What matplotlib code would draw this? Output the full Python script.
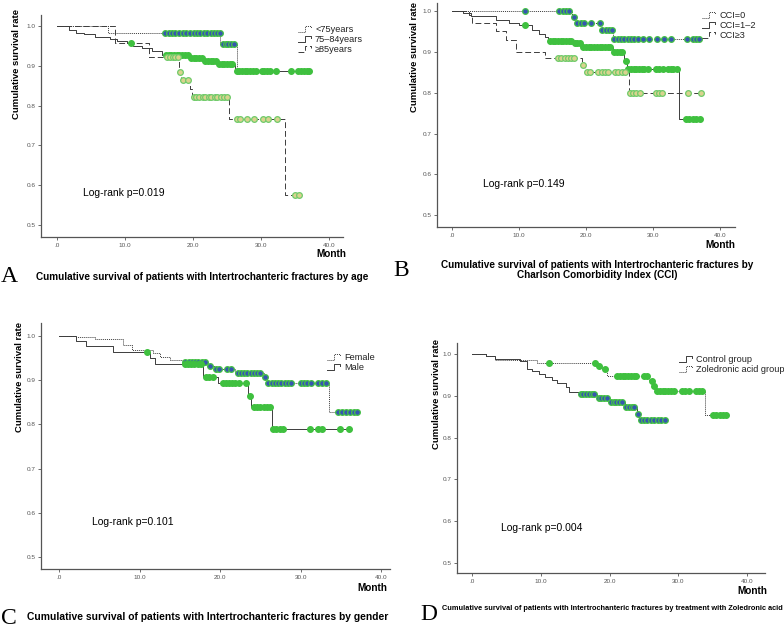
import numpy as np
import matplotlib.pyplot as plt
from matplotlib.lines import Line2D

plt.rcParams['font.family'] = ['Liberation Sans', 'DejaVu Sans']

W, H = 784, 630

# ---------------- data: event times (month), survival after event, censored times
# A - age
a1_t = [7.5, 24.0, 26.4]
a1_s = [0.984, 0.954, 0.888]
a1_c = [15.9, 16.4, 16.9, 17.4, 17.9, 18.5, 19.0, 19.6, 20.1, 20.6, 21.1, 21.6,
        22.1, 22.6, 23.1, 23.6, 23.9, 24.4, 24.8, 25.2, 25.6, 26.0]
a2_t = [1.7, 2.8, 3.9, 5.6, 7.8, 8.8, 10.3, 11.2, 12.5, 14.0, 15.4, 19.4, 21.6, 23.6, 26.2]
a2_s = [0.99, 0.984, 0.979, 0.973, 0.968, 0.962, 0.957, 0.95, 0.945, 0.937, 0.928,
        0.92, 0.912, 0.904, 0.888]
a2_c = [10.9, 16.0, 16.4, 16.8, 17.2, 17.6, 18.0, 18.4, 18.8, 19.2, 19.7, 20.1, 20.5,
        20.9, 21.3, 21.8, 22.2, 22.6, 23.0, 23.4, 23.8, 24.2, 24.6, 25.0, 25.4, 25.8,
        26.4, 26.8, 27.2, 27.6, 28.0, 28.4, 28.8, 29.2, 30.1, 30.5, 30.9, 31.3, 32.2,
        34.4, 35.5, 35.9, 36.3, 36.7, 37.1]
a3_t = [8.5, 13.6, 17.9, 18.3, 19.5, 19.9, 25.3, 33.6]
a3_s = [0.957, 0.922, 0.885, 0.864, 0.843, 0.823, 0.766, 0.575]
a3_c = [16.2, 16.6, 17.0, 17.4, 17.8, 18.1, 18.6, 19.2, 20.1, 20.5, 20.9, 21.4, 21.8,
        22.3, 22.7, 23.2, 23.6, 24.1, 24.5, 25.0, 26.4, 26.9, 27.9, 28.9, 30.3, 31.0,
        32.3, 35.0, 35.6]

# B - CCI
b1_t = [17.9, 18.4, 22.3, 24.0]
b1_s = [0.986, 0.97, 0.953, 0.932]
b1_c = [10.9, 16.0, 16.5, 17.0, 17.5, 18.2, 18.7, 19.2, 19.7, 20.8, 22.0, 22.4, 22.9,
        23.4, 23.8, 24.2, 24.7, 25.2, 25.7, 26.2, 26.7, 27.2, 27.7, 28.5, 29.4, 30.6,
        31.6, 32.6, 35.0, 35.9, 36.4, 36.9]
b2_t = [1.7, 2.9, 6.5, 8.5, 10.0, 12.0, 13.0, 13.8, 14.3, 18.1, 19.4, 24.0, 25.7, 26.1, 33.8]
b2_s = [0.996, 0.988, 0.978, 0.972, 0.967, 0.953, 0.945, 0.937, 0.928, 0.921, 0.912,
        0.899, 0.879, 0.858, 0.735]
b2_c = [10.9, 14.6, 15.0, 15.4, 15.8, 16.2, 16.6, 17.0, 17.4, 17.8, 18.3, 18.7, 19.1,
        19.6, 20.0, 20.4, 20.8, 21.2, 21.6, 22.0, 22.4, 22.8, 23.2, 23.6, 24.2, 24.6,
        25.0, 25.4, 25.9, 26.3, 26.7, 27.1, 27.5, 27.9, 28.3, 28.7, 29.2, 30.4, 30.8,
        31.4, 32.2, 32.6, 33.0, 33.5, 34.9, 35.4, 35.9, 36.4, 37.0]
b3_t = [2.5, 3.0, 6.5, 8.0, 9.6, 13.9, 19.4, 19.9, 26.4]
b3_s = [0.99, 0.972, 0.952, 0.929, 0.899, 0.884, 0.867, 0.85, 0.80]
b3_c = [15.8, 16.3, 16.8, 17.3, 17.8, 18.2, 19.6, 20.1, 20.6, 21.8, 22.3, 22.8, 23.3,
        24.3, 24.8, 25.3, 25.8, 26.5, 27.0, 27.5, 28.0, 30.4, 30.9, 31.3, 35.2, 37.1]

# C - gender
c1_t = [2.1, 4.5, 8.0, 9.0, 11.7, 12.5, 13.8, 15.4, 18.5, 19.2, 21.9, 25.4, 25.8, 33.5]
c1_s = [0.997, 0.992, 0.98, 0.968, 0.961, 0.953, 0.946, 0.94, 0.932, 0.925, 0.917,
        0.906, 0.894, 0.828]
c1_c = [15.7, 16.1, 16.5, 16.9, 17.3, 17.7, 18.1, 18.8, 19.5, 19.9, 20.9, 21.3, 22.2,
        22.6, 23.0, 23.4, 23.8, 24.2, 24.6, 25.0, 25.6, 26.0, 26.4, 26.8, 27.2, 27.6,
        28.0, 28.4, 28.8, 30.0, 30.4, 30.8, 31.3, 32.1, 32.6, 33.1, 34.6, 35.1, 35.6,
        36.1, 36.6, 37.0]
c2_t = [2.1, 3.4, 6.7, 11.3, 11.9, 17.9, 19.8, 23.5, 23.9, 26.4]
c2_s = [0.989, 0.976, 0.963, 0.951, 0.937, 0.907, 0.893, 0.864, 0.84, 0.789]
c2_c = [10.9, 15.6, 16.0, 16.4, 16.8, 17.2, 17.6, 18.2, 18.6, 19.1, 20.3, 20.7, 21.1,
        21.5, 21.9, 22.3, 23.2, 23.7, 24.2, 24.6, 25.0, 25.4, 25.8, 26.2, 26.6, 27.0,
        27.4, 27.8, 31.2, 32.2, 32.6, 34.9, 36.0]

# D - zoledronic acid
d1_t = [2.1, 3.4, 7.0, 8.0, 8.7, 9.7, 10.6, 11.6, 12.4, 13.6, 14.1, 15.5, 18.2, 20.1,
        22.2, 24.0, 24.3]
d1_s = [0.994, 0.987, 0.982, 0.963, 0.958, 0.952, 0.944, 0.937, 0.930, 0.92, 0.91,
        0.904, 0.895, 0.885, 0.873, 0.857, 0.842]
d1_c = [15.8, 16.2, 16.6, 17.0, 17.4, 17.8, 18.4, 18.8, 19.2, 19.6, 20.2, 20.6, 21.0,
        21.4, 21.8, 22.4, 22.8, 23.2, 23.6, 24.1, 24.6, 25.0, 25.5, 26.0, 26.5, 27.0,
        27.5, 28.0]
d2_t = [2.1, 3.4, 9.5, 18.2, 18.9, 19.6, 25.7, 26.3, 26.7, 33.9]
d2_s = [0.994, 0.986, 0.978, 0.972, 0.963, 0.948, 0.936, 0.924, 0.911, 0.853]
d2_c = [11.2, 17.9, 18.4, 19.3, 21.1, 21.5, 21.9, 22.3, 22.7, 23.1, 23.5, 23.9, 25.0,
        25.4, 26.1, 26.5, 26.9, 27.3, 27.7, 28.1, 28.5, 28.9, 29.3, 30.6, 31.0, 31.5,
        32.6, 33.0, 33.4, 35.0, 35.5, 36.0, 36.5, 37.0]

x_ticks = [0, 10, 20, 30, 40]
x_tick_labels = ['.0', '10.0', '20.0', '30.0', '40.0']
y_ticks = [0.5, 0.6, 0.7, 0.8, 0.9, 1.0]
y_tick_labels = ['0.5', '0.6', '0.7', '0.8', '0.9', '1.0']

# marker styles (face, edge)
BLUE = ('#3556b0', '#45c245')
GREEN = ('#3fc03f', '#3fc03f')
TAN = ('#d9d38e', '#6fcb6a')
DOT = (0, (1, 1))
DASH = (0, (6, 3))


def fx(x):
    return x / W


def fy(y):
    return 1 - y / H


def km(ax, t, s, c, ls, style):
    end = max(max(c), t[-1])
    tt = np.r_[0, t, end]
    ss = np.r_[1.0, s, s[-1]]
    ax.step(tt, ss, where='post', color='#3c3c3c', lw=0.7, ls=ls, zorder=2)
    lev = np.r_[1.0, s]
    cy = lev[np.searchsorted(t, c, side='right')]
    ax.plot(c, cy, 'o', ms=4.1, mfc=style[0], mec=style[1], mew=0.9, zorder=3)


def legend(fig, x, y, items):
    for i, (lab, ls) in enumerate(items):
        yy = y + i * 10
        xs = [x, x + 7, x + 7, x + 13, x + 13]
        ys = [yy + 3, yy + 3, yy - 3, yy - 3, yy - 1]
        fig.add_artist(Line2D([fx(v) for v in xs], [fy(v) for v in ys],
                              lw=0.7, color='#3c3c3c', ls=ls))
        fig.text(fx(x + 17), fy(yy), lab, fontsize=6.6, va='center', color='#222222')


fig = plt.figure(figsize=(7.84, 6.3), dpi=100)

panels = [
    dict(box=(41, 15, 343, 237), xlim=(-2.35, 42.06), ylim=(0.470, 1.028),
         curves=[(a1_t, a1_s, a1_c, DOT, BLUE), (a2_t, a2_s, a2_c, '-', GREEN),
                 (a3_t, a3_s, a3_c, DASH, TAN)],
         leg=(298, 29, [('<75years', DOT), ('75\u201384years', '-'), ('\u226585years', DASH)]),
         lr=(83, 193, 'Log-rank p=0.019'), month=(331, 254), ylab=(21, 0.78)),
    dict(box=(437, 3, 735, 227), xlim=(-2.24, 42.2), ylim=(0.471, 1.020),
         curves=[(b1_t, b1_s, b1_c, DOT, BLUE), (b2_t, b2_s, b2_c, '-', GREEN),
                 (b3_t, b3_s, b3_c, DASH, TAN)],
         leg=(702, 15, [('CCI=0', DOT), ('CCI=1\u20132', '-'), ('CCI\u22653', DASH)]),
         lr=(483, 184, 'Log-rank p=0.149'), month=(720, 245), ylab=(419, 0.76)),
    dict(box=(41, 323, 390, 569), xlim=(-2.24, 41.1), ylim=(0.473, 1.029),
         curves=[(c1_t, c1_s, c1_c, DOT, BLUE), (c2_t, c2_s, c2_c, '-', GREEN)],
         leg=(327, 357, [('Female', DOT), ('Male', '-')]),
         lr=(92, 522, 'Log-rank p=0.101'), month=(372, 588), ylab=(24, 0.78)),
    dict(box=(457, 343, 765, 573), xlim=(-2.18, 42.6), ylim=(0.476, 1.026),
         curves=[(d1_t, d1_s, d1_c, '-', BLUE), (d2_t, d2_s, d2_c, DOT, GREEN)],
         leg=(679, 359, [('Control group', '-'), ('Zoledronic acid group', DOT)]),
         lr=(501, 528, 'Log-rank p=0.004'), month=(752, 591), ylab=(441, 0.78)),
]

for p in panels:
    l, t, r, b = p['box']
    ax = fig.add_axes([fx(l), fy(b), (r - l) / W, (b - t) / H])
    for cv in p['curves']:
        km(ax, *cv)
    ax.set_xlim(*p['xlim'])
    ax.set_ylim(*p['ylim'])
    ax.set_xticks(x_ticks)
    ax.set_xticklabels(x_tick_labels)
    ax.set_yticks(y_ticks)
    ax.set_yticklabels(y_tick_labels)
    for sp in ['top', 'right']:
        ax.spines[sp].set_visible(False)
    for sp in ['left', 'bottom']:
        ax.spines[sp].set_color('#555555')
        ax.spines[sp].set_linewidth(0.9)
    ax.tick_params(length=2.5, width=0.6, colors='#555555', labelsize=4.6, pad=1.5)
    ax.set_ylabel('Cumulative survival rate', fontsize=6.8, fontweight='bold')
    ax.yaxis.set_label_coords((p['ylab'][0] - l) / (r - l), p['ylab'][1])
    legend(fig, *p['leg'])
    fig.text(fx(p['lr'][0]), fy(p['lr'][1]), p['lr'][2], fontsize=7.5, va='center')
    fig.text(fx(p['month'][0]), fy(p['month'][1]), 'Month', fontsize=7.2,
             fontweight='bold', ha='center', va='center')

# panel letters and captions
for let, x, y in [('A', 1, 277), ('B', 393, 270), ('C', 1, 618), ('D', 420, 614)]:
    fig.text(fx(x), fy(y), let, fontsize=17, family='Liberation Serif',
             ha='left', va='center')

fig.text(fx(36), fy(277), 'Cumulative survival of patients with Intertrochanteric fractures by age',
         fontsize=7.2, fontweight='bold', va='center')
fig.text(fx(597), fy(270), 'Cumulative survival of patients with Intertrochanteric fractures by\n'
         'Charlson Comorbidity Index (CCI)', fontsize=7.2, fontweight='bold',
         ha='center', va='center', linespacing=1.0)
fig.text(fx(27), fy(617), 'Cumulative survival of patients with Intertrochanteric fractures by gender',
         fontsize=7.4, fontweight='bold', va='center')
fig.text(fx(442), fy(608), 'Cumulative survival of patients with Intertrochanteric fractures by '
         'treatment with Zoledronic acid', fontsize=5.3, fontweight='bold', va='center')

fig.savefig('out.png', dpi=100)
